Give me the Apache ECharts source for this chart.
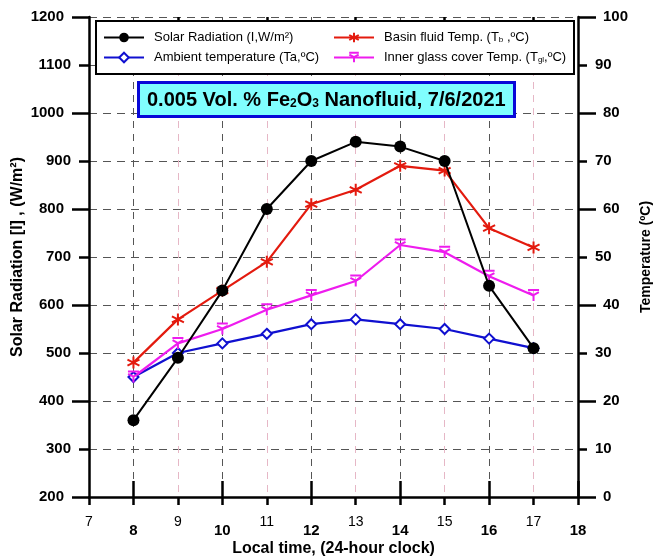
<!DOCTYPE html>
<html>
<head>
<meta charset="utf-8">
<script src="https://cdn.jsdelivr.net/npm/echarts@6/dist/echarts.min.js"></script>
<style>
  html, body { margin: 0; padding: 0; background: #fff; }
  #chart { width: 654px; height: 557px; }
</style>
</head>
<body>
<div id="chart"></div>
<script>
var hours = [8, 9, 10, 11, 12, 13, 14, 15, 16, 17];
var solar = [360, 490, 630, 800, 900, 940, 930, 900, 640, 510];     // W/m2, left axis
var ambient = [25, 30, 32, 34, 36, 37, 36, 35, 33, 31];             // degC, right axis
var basin = [28, 37, 43, 49, 61, 64, 69, 68, 56, 52];
var glass = [25, 32, 35, 39, 42, 45, 52.5, 51, 46, 42];
var radTicks = [200, 1200, 100];   // min, max, step
var tempTicks = [0, 100, 10];
var evenHours = [8, 10, 12, 14, 16, 18];
var oddHours = [9, 11, 13, 15, 17];
var radMajor = [200, 400, 600, 800, 1000, 1200];
var tempMajor = [0, 20, 40, 60, 80, 100];

var font = "Liberation Sans, Arial, sans-serif";
var asterisk = "path://M0,-10L0,10M-8.7,-5L8.7,5M-8.7,5L8.7,-5";
var yStar = "path://M0,0L0,10M0,0L-8.7,-5M0,0L8.7,-5M-9,-9L9,-9";

function pairs(vals) {
  return hours.map(function (h, i) { return [h, vals[i]]; });
}

var chart = echarts.init(document.getElementById("chart"));

// extra axes only carry the long / short tick marks
function tickAxis(base, values, len, inside) {
  return Object.assign({}, base, {
    axisLine: { show: false },
    axisLabel: { show: false },
    splitLine: { show: false },
    axisTick: { show: true, inside: !!inside, length: len, customValues: values,
      lineStyle: { color: "#000", width: 2.5 } }
  });
}

var xBase = { type: "value", min: 7, max: 18, interval: 1 };
var yRadBase = { type: "value", min: radTicks[0], max: radTicks[1], interval: radTicks[2], position: "left" };
var yTempBase = { type: "value", min: tempTicks[0], max: tempTicks[1], interval: tempTicks[2], position: "right" };

var option = {
  backgroundColor: "#fff",
  animation: false,
  textStyle: { fontFamily: font },
  grid: { left: 89, right: 76, top: 17, bottom: 60, outerBoundsMode: "none", containLabel: false },
  title: {
    left: 138,
    top: 82,
    padding: [8, 9, 7, 9],
    backgroundColor: "#80ffff",
    borderColor: "#0808d8",
    borderWidth: 3,
    text: "0.005 Vol. % Fe{s|2}O{s|3} Nanofluid, 7/6/2021",
    textStyle: {
      fontFamily: font, fontSize: 20, fontWeight: "bold", color: "#000",
      rich: {
        s: { fontFamily: font, fontSize: 12, fontWeight: "bold", padding: [8, 0, 0, 0] }
      }
    }
  },
  graphic: [{
    type: "rect",
    shape: { x: 96, y: 21, width: 478, height: 53 },
    style: { fill: "#fff", stroke: "#000", lineWidth: 2 },
    z: 5
  }],
  legend: [
    {
      orient: "vertical", left: 103, top: 31, padding: 0, itemWidth: 40, itemHeight: 12, itemGap: 7,
      data: ["Solar Radiation", "Ambient temperature"],
      formatter: function (n) {
        return n === "Solar Radiation" ? "Solar Radiation (I,W/m²)" : "Ambient temperature (Ta,ºC)";
      },
      textStyle: { fontFamily: font, fontSize: 13, color: "#000", padding: [0, 0, 0, 5] },
      z: 10
    },
    {
      orient: "vertical", left: 333, top: 31, padding: 0, itemWidth: 40, itemHeight: 12, itemGap: 7,
      data: ["Basin fluid Temp.", "Inner glass cover Temp."],
      formatter: function (n) {
        return n === "Basin fluid Temp." ? "Basin fluid Temp. (T{s|b} ,ºC)" : "Inner glass cover Temp. (T{s|gl},ºC)";
      },
      textStyle: {
        fontFamily: font, fontSize: 13, color: "#000", padding: [0, 0, 0, 5],
        rich: { s: { fontFamily: font, fontSize: 8, padding: [5, 0, 0, 0] } }
      },
      z: 10
    }
  ],
  xAxis: [
    Object.assign({}, xBase, {
      name: "Local time, (24-hour clock)", nameLocation: "middle", nameGap: 44, nameMoveOverlap: false,
      nameTextStyle: { fontFamily: font, fontSize: 16, fontWeight: "bold", color: "#000" },
      axisLine: { lineStyle: { color: "#000", width: 2.5 } },
      axisTick: { length: 8, lineStyle: { color: "#000", width: 2.5 } },
      axisLabel: {
        margin: 18,
        formatter: function (v) { return v % 2 === 0 ? "{e|" + v + "}" : "{o|" + v + "}"; },
        rich: {
          e: { fontFamily: font, fontSize: 15, fontWeight: "bold", color: "#000", padding: [8, 0, 0, 0] },
          o: { fontFamily: font, fontSize: 14, color: "#000" }
        }
      },
      splitLine: {
        show: true,
        lineStyle: { color: ["#e6b7c6", "#555"], type: [7, 6], width: 1 }
      }
    }),
    tickAxis(xBase, evenHours, 16, false),
    tickAxis(xBase, oddHours, 8, true)
  ],
  yAxis: [
    Object.assign({}, yRadBase, {
      name: "Solar Radiation [I] , (W/m²)", nameLocation: "middle", nameGap: 63, nameMoveOverlap: false,
      nameTextStyle: { fontFamily: font, fontSize: 16, fontWeight: "bold", color: "#000" },
      axisLine: { show: true, lineStyle: { color: "#000", width: 2.5 } },
      axisTick: { show: true, length: 10, lineStyle: { color: "#000", width: 2.5 } },
      axisLabel: {
        margin: 18,
        formatter: function (v) { return v % 200 === 0 ? "{M|" + v + "}" : "{m|" + v + "}"; },
        rich: {
          M: { fontFamily: font, fontSize: 15, fontWeight: "bold", color: "#000", padding: [0, 7, 0, 0] },
          m: { fontFamily: font, fontSize: 15, fontWeight: "bold", color: "#000" }
        }
      },
      splitLine: { show: true, lineStyle: { color: "#555", type: [8, 6], width: 1 } }
    }),
    Object.assign({}, yTempBase, {
      name: "Temperature (ºC)", nameLocation: "middle", nameGap: 61, nameMoveOverlap: false,
      nameTextStyle: { fontFamily: font, fontSize: 14, fontWeight: "bold", color: "#000" },
      axisLine: { show: true, lineStyle: { color: "#000", width: 2.5 } },
      axisTick: { show: true, length: 9, lineStyle: { color: "#000", width: 2.5 } },
      axisLabel: {
        margin: 17,
        formatter: function (v) { return v % 20 === 0 ? "{M|" + v + "}" : "{m|" + v + "}"; },
        rich: {
          M: { fontFamily: font, fontSize: 15, fontWeight: "bold", color: "#000", padding: [0, 0, 0, 8] },
          m: { fontFamily: font, fontSize: 15, fontWeight: "bold", color: "#000" }
        }
      },
      splitLine: { show: false }
    }),
    tickAxis(yRadBase, radMajor, 17, false),
    tickAxis(yTempBase, tempMajor, 18, false)
  ],
  series: [
    {
      name: "Solar Radiation", type: "line", yAxisIndex: 0, data: pairs(solar),
      symbol: "circle", symbolSize: 12,
      lineStyle: { color: "#000", width: 2 },
      itemStyle: { color: "#000" }, z: 3
    },
    {
      name: "Ambient temperature", type: "line", yAxisIndex: 1, data: pairs(ambient),
      symbol: "emptyDiamond", symbolSize: 10,
      lineStyle: { color: "#1010d0", width: 2.2 },
      itemStyle: { color: "#1010d0", borderColor: "#1010d0", borderWidth: 2 }, z: 2
    },
    {
      name: "Basin fluid Temp.", type: "line", yAxisIndex: 1, data: pairs(basin),
      symbol: asterisk, symbolSize: 12,
      lineStyle: { color: "#e31a0e", width: 2.2 },
      itemStyle: { color: "#e31a0e", borderColor: "#e31a0e", borderWidth: 2 }, z: 2
    },
    {
      name: "Inner glass cover Temp.", type: "line", yAxisIndex: 1, data: pairs(glass),
      symbol: yStar, symbolSize: 11,
      lineStyle: { color: "#ee1cee", width: 2.2 },
      itemStyle: { color: "#ee1cee", borderColor: "#ee1cee", borderWidth: 2 }, z: 2
    }
  ]
};

chart.setOption(option);
window.addEventListener("resize", function () { chart.resize(); });
</script>
</body>
</html>
